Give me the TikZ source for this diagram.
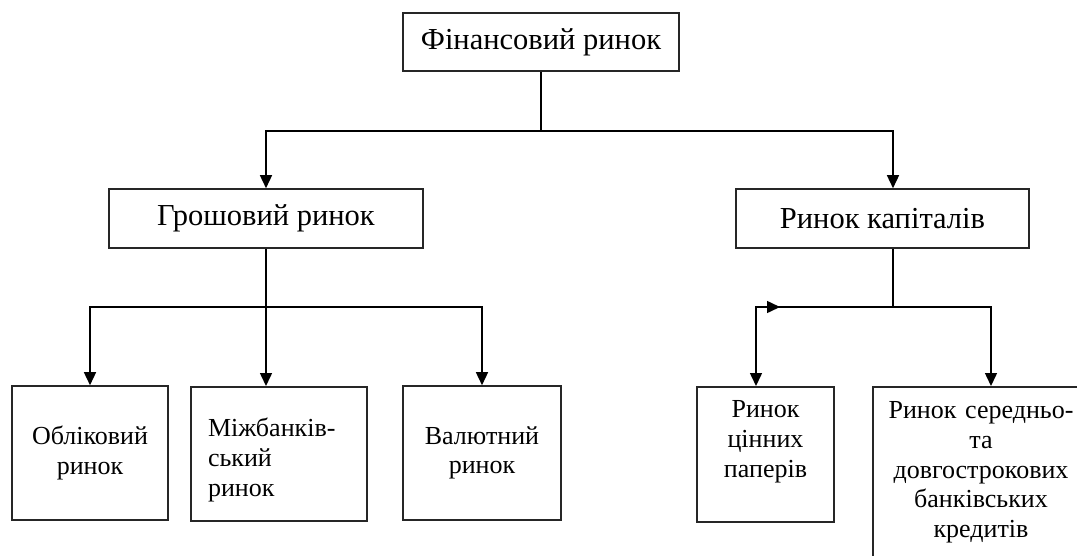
\documentclass[tikz,border=0pt]{standalone}
\usepackage{fontspec}
\setmainfont{Liberation Serif}
\usetikzlibrary{calc}
\usetikzlibrary{positioning, arrows.meta}

\begin{document}
\begin{tikzpicture}[x=1pt, y=-1pt]
        % Define styles for shapes
        \tikzstyle{box} = [draw=black!85, line width=1.6pt, inner sep=0pt, align=center]
        \tikzstyle{bigtext} = [font=\fontsize{30.5}{34}\selectfont]
        \tikzstyle{smalltext} = [font=\fontsize{26}{29.7}\selectfont]
        \tikzstyle{link} = [line width=1.5pt]
        \tikzstyle{arr} = [link, -{Triangle[length=13pt, width=12pt]}]
        \useasboundingbox (0,0) rectangle (1077,555);
        \clip (0,0) rectangle (1077,555);

        % Draw shapes
        \node[box, bigtext, minimum width=276pt, minimum height=58pt] (fin) at (541,42) {Фінансовий ринок};
        \node[box, bigtext, minimum width=314pt, minimum height=59pt] (grosh) at (266,218.5) {Грошовий ринок};
        \node[box, bigtext, minimum width=293pt, minimum height=59pt] (kapital) at (882.5,218.5) {Ринок капіталів};

        \node[box, smalltext, minimum width=156pt, minimum height=134pt] (oblik) at (90,453) {Обліковий\\ринок};
        \node[box, smalltext, align=left, text width=142pt, minimum width=176pt,
              text height=50pt, text depth=84pt, anchor=north] (mizh) at (279,386) {Міжбанків-\\ський\\ринок};
        \node[box, smalltext, minimum width=158pt, minimum height=134pt] (valut) at (482,453) {Валютний\\ринок};

        \node[box, smalltext, text width=137pt, text height=31pt, text depth=104pt, anchor=north] (cinni) at (765.5,386) {Ринок\\цінних\\паперів};
        \node[box, smalltext, text width=216pt, text height=32pt, text depth=152pt, anchor=north] (kredyt) at (981,386) {Ринок середньо-\\та\\довгострокових\\банківських\\кредитів};

        % Junctions
        \coordinate (jTop) at (541,131);
        \coordinate (jL) at (266,307);
        \coordinate (jR) at (893,307);
        \coordinate (cL) at (756,307);
        \coordinate (cR) at (991,307);
        \coordinate (tip) at (780,307);

        % Draw arrows
        \draw[link] (fin.south) -- (jTop);
        \draw[arr] (jTop) -| (grosh.north);
        \draw[arr] (jTop) -| ([xshift=10.5pt]kapital.north);

        \draw[arr] (grosh.south) -- (grosh.south |- mizh.north);
        \draw[arr] (jL) -| (oblik.north);
        \draw[arr] (jL) -| (valut.north);

        \draw[link] ([xshift=10.5pt]kapital.south) -- (jR);
        \draw[arr] (jR) -| (cinni.north -| cL);
        \draw[arr] (jR) -| (kredyt.north -| cR);
        \draw[arr] (cL) -- (tip);
\end{tikzpicture}
\end{document}
